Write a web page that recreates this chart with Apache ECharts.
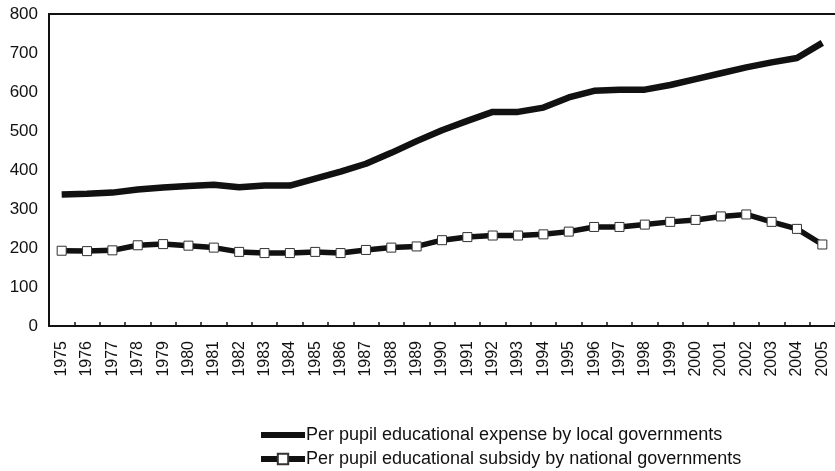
<!DOCTYPE html>
<html>
<head>
<meta charset="utf-8">
<script src="https://cdn.jsdelivr.net/npm/echarts@6/dist/echarts.min.js"></script>
<style>html,body{margin:0;padding:0;background:#fff}#c{width:835px;height:471px}</style>
</head>
<body>
<div id="c"></div>
<script>
const years = ['1975','1976','1977','1978','1979','1980','1981','1982','1983','1984','1985','1986','1987','1988','1989','1990','1991','1992','1993','1994','1995','1996','1997','1998','1999','2000','2001','2002','2003','2004','2005'];
const localExpense = [337,339,342,350,355,359,362,356,360,360,378,396,416,444,474,502,526,549,549,560,586,603,606,606,618,633,648,663,676,687,726];
const nationalSubsidy = [193,192,194,207,210,206,201,190,187,187,190,187,195,201,204,220,228,232,232,235,242,254,254,260,267,272,281,286,267,249,209];
const yTicks = [0,100,200,300,400,500,600,700,800];
const seriesNames = ['Per pupil educational expense by local governments','Per pupil educational subsidy by national governments'];

const chart = echarts.init(document.getElementById('c'));
const font = 'Liberation Sans, Arial, sans-serif';
const legendText = {fontFamily: font, fontSize: 18, color: '#111', padding: [0,0,0,-4]};
chart.setOption({
  animation: false,
  grid: {left: 49, top: 14, width: 791, bottom: 145, containLabel: false},
  legend: [{
    orient: 'vertical', left: 253, top: 421, itemWidth: 44, itemHeight: 13,
    textStyle: legendText, data: [seriesNames[0]],
    lineStyle: {width: 6, color: '#111'}, itemStyle: {opacity: 0}
  }, {
    orient: 'vertical', left: 253, top: 445, itemWidth: 44, itemHeight: 13,
    textStyle: legendText, data: [seriesNames[1]],
    lineStyle: {width: 6, color: '#111'}
  }],
  xAxis: [{
    type: 'category', data: years, boundaryGap: true,
    axisLine: {lineStyle: {color: '#111', width: 2}},
    axisTick: {show: true, inside: true, length: 4, lineStyle: {color: '#111', width: 1.5}},
    axisLabel: {rotate: 90, fontFamily: font, fontSize: 16, color: '#111', margin: 15, interval: 0}
  }, {
    type: 'category', data: years, position: 'top',
    axisLine: {show: true, lineStyle: {color: '#111', width: 2}},
    axisTick: {show: false}, axisLabel: {show: false}
  }],
  yAxis: {
    type: 'value', min: yTicks[0], max: yTicks[yTicks.length-1], interval: 100,
    axisLine: {show: true, lineStyle: {color: '#111', width: 2}},
    axisTick: {show: false},
    splitLine: {show: false},
    axisLabel: {fontFamily: font, fontSize: 17, color: '#111', margin: 11, padding: [7,0,0,0]}
  },
  series: [{
    name: seriesNames[0], type: 'line', data: localExpense,
    symbol: 'none', lineStyle: {color: '#111', width: 6.5}, itemStyle: {color: '#111'}
  }, {
    name: seriesNames[1], type: 'line', data: nationalSubsidy,
    symbol: 'rect', symbolSize: 9, showSymbol: true,
    lineStyle: {color: '#111', width: 5.5},
    itemStyle: {color: '#fff', borderColor: '#333', borderWidth: 1}
  }]
});
</script>
</body>
</html>
